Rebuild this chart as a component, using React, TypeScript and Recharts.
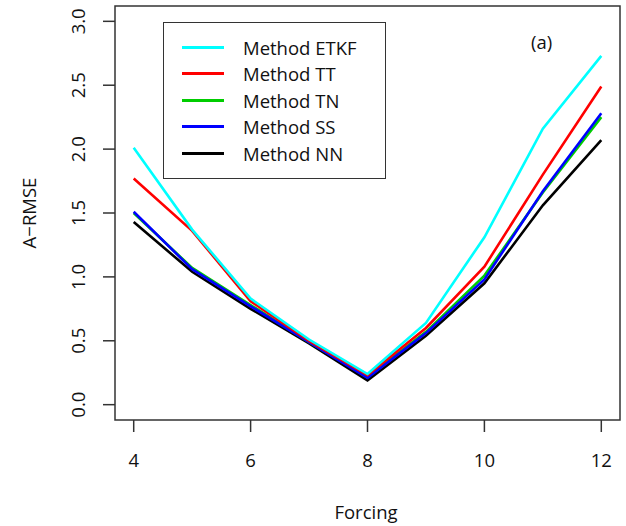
import React from 'react'
import { LineChart, Line, XAxis, YAxis, ReferenceArea } from 'recharts'

const forcing = [4, 5, 6, 7, 8, 9, 10, 11, 12]
const etkf = [2.01, 1.37, 0.83, 0.51, 0.24, 0.64, 1.31, 2.16, 2.73]
const tt = [1.77, 1.36, 0.81, 0.5, 0.23, 0.6, 1.08, 1.8, 2.49]
const tn = [1.5, 1.07, 0.78, 0.49, 0.22, 0.57, 1.01, 1.66, 2.25]
const ss = [1.51, 1.06, 0.77, 0.49, 0.21, 0.56, 0.98, 1.67, 2.28]
const nn = [1.43, 1.04, 0.75, 0.48, 0.19, 0.54, 0.95, 1.56, 2.07]

const xTicks = [4, 6, 8, 10, 12]
const yTicks = [0, 0.5, 1, 1.5, 2, 2.5, 3]

const series = [
  { key: 'etkf', name: 'Method ETKF', color: '#00FFFF', values: etkf },
  { key: 'tt', name: 'Method TT', color: '#FF0000', values: tt },
  { key: 'tn', name: 'Method TN', color: '#00CD00', values: tn },
  { key: 'ss', name: 'Method SS', color: '#0000FF', values: ss },
  { key: 'nn', name: 'Method NN', color: '#000000', values: nn },
]
// draw order: last ones end up on top
const drawOrder = ['nn', 'tn', 'ss', 'tt', 'etkf']

const data = forcing.map((f, i) => {
  const row: Record<string, number> = { forcing: f }
  series.forEach((s) => (row[s.key] = s.values[i]))
  return row
})

const FONT = '"Open Sans", "DejaVu Sans", sans-serif'
const FS = 18.5

function XTick({ x, y, payload }: any) {
  return (
    <text x={x} y={y + 33} textAnchor="middle" fontSize={FS} fill="#111" fontFamily={FONT}>
      {payload.value}
    </text>
  )
}

function YTick({ x, y, payload }: any) {
  const cx = x - 16
  return (
    <text
      x={cx}
      y={y}
      transform={`rotate(-90 ${cx} ${y})`}
      textAnchor="middle"
      fontSize={FS}
      fill="#111"
      fontFamily={FONT}
    >
      {payload.value.toFixed(1)}
    </text>
  )
}

function LegendBox() {
  return (
    <div
      style={{
        position: 'absolute',
        left: 163,
        top: 22,
        border: '1.5px solid #333',
        background: '#fff',
        width: 221,
        padding: '11px 0 11.5px 0',
        fontFamily: FONT,
        fontSize: FS,
        color: '#111',
      }}
    >
      {series.map((s) => (
        <div key={s.key} style={{ display: 'flex', alignItems: 'center', height: 26.5 }}>
          <div style={{ width: 42, height: 3, background: s.color, marginLeft: 18, marginRight: 19 }} />
          <span>{s.name}</span>
        </div>
      ))}
    </div>
  )
}

export default function App() {
  return (
    <div style={{ position: 'absolute', left: 0, top: 0, width: 626, height: 526, background: '#fff' }}>
      <LineChart width={626} height={526} data={data} margin={{ top: 6, right: 6, left: 0, bottom: 0 }}>
        <XAxis
          dataKey="forcing"
          type="number"
          domain={[3.68, 12.32]}
          ticks={xTicks}
          axisLine={false}
          tickLine={{ stroke: '#333', strokeWidth: 1.5 }}
          tickSize={12}
          tick={<XTick />}
          height={106}
          allowDataOverflow
        />
        <YAxis
          type="number"
          domain={[-0.12, 3.12]}
          ticks={yTicks}
          axisLine={false}
          tickLine={{ stroke: '#333', strokeWidth: 1.5 }}
          tickSize={12}
          tick={<YTick />}
          width={115}
          allowDataOverflow
        />
        <ReferenceArea
          x1={3.68}
          x2={12.32}
          y1={-0.12}
          y2={3.12}
          fill="none"
          stroke="#333"
          strokeWidth={1.5}
          ifOverflow="visible"
        />
        {drawOrder.map((k) => {
          const s = series.find((d) => d.key === k)!
          return (
            <Line
              key={s.key}
              dataKey={s.key}
              name={s.name}
              stroke={s.color}
              strokeWidth={2.6}
              dot={false}
              type="linear"
              isAnimationActive={false}
            />
          )
        })}
      </LineChart>
      <LegendBox />
      <div style={{ position: 'absolute', left: 531, top: 29, fontFamily: FONT, fontSize: FS, color: '#111' }}>(a)</div>
      <div
        style={{
          position: 'absolute',
          left: 28,
          top: 213,
          transform: 'translate(-50%, -50%) rotate(-90deg)',
          fontFamily: FONT,
          fontSize: FS,
          color: '#111',
          whiteSpace: 'nowrap',
        }}
      >
        A−RMSE
      </div>
      <div
        style={{
          position: 'absolute',
          left: 366,
          top: 511,
          transform: 'translate(-50%, -50%)',
          fontFamily: FONT,
          fontSize: FS,
          color: '#111',
        }}
      >
        Forcing
      </div>
    </div>
  )
}
